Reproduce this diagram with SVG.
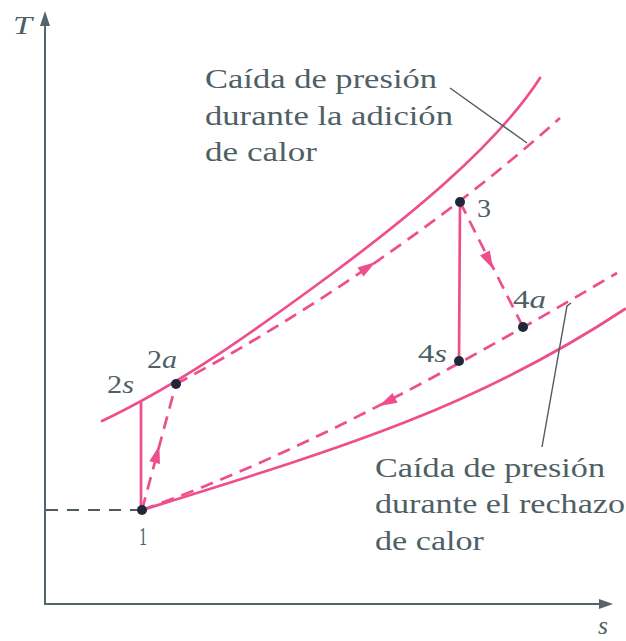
<svg xmlns="http://www.w3.org/2000/svg" width="626" height="641" viewBox="0 0 626 641">
<style>
.ax{stroke:#56646c;stroke-width:2;fill:none}
.axh{fill:#56646c}
.pk{stroke:#ee4f8c;stroke-width:2.7;fill:none;stroke-linejoin:round;stroke-linecap:round}
.pd{stroke:#ee4f8c;stroke-width:2.7;fill:none;stroke-dasharray:13 8;stroke-linejoin:round}
.gd{stroke:#4e5a63;stroke-width:2;fill:none;stroke-dasharray:12 9}
.ld{stroke:#4e5a63;stroke-width:1.4;fill:none}
.ah{fill:#ee4f8c}
.dot{fill:#1e2838}
.t{font-family:"Liberation Serif","Times New Roman",serif;font-size:27px;fill:#4f5f66}
.lb{font-family:"Liberation Serif","Times New Roman",serif;font-size:26px;fill:#4f5f66}
.it{font-style:italic}
</style>
<defs>
<path id="arr" d="M9,0 L-9,-5.5 L-9,5.5 Z"/>
</defs>

<g id="axes">
<line class="ax" x1="45" y1="605" x2="45" y2="22"/>
<path class="axh" d="M45,11 L40,26 L50,26 Z"/>
<line class="ax" x1="44" y1="604" x2="602" y2="604"/>
<path class="axh" d="M613,604 L599,599 L599,609 Z"/>
<text class="lb it" x="13" y="34" textLength="19" lengthAdjust="spacingAndGlyphs">T</text>
<text class="lb it" x="598" y="634" textLength="10" lengthAdjust="spacingAndGlyphs">s</text>
</g>

<g id="connectors">
<!-- high pressure line (solid) -->
<path class="pk" d="M102,421 C182,383 253,332 333,273 C403,221 495,148 540,78"/>
<!-- heat addition with pressure drop (dashed) -->
<path class="pd" d="M176,384 C306,315 450,217 560,118"/>
<!-- low pressure line (solid) -->
<path class="pk" d="M142,510 C342,448 475,408 625,309"/>
<!-- heat rejection with pressure drop (dashed) -->
<path class="pd" d="M142,510 C302,453 457,367 617,273"/>
<!-- isentropic compression 1-2s -->
<line class="pk" x1="141" y1="510" x2="141" y2="403"/>
<!-- actual compression 1-2a -->
<line class="pd" x1="142" y1="510" x2="176" y2="384"/>
<!-- isentropic expansion 3-4s -->
<line class="pk" x1="460" y1="202" x2="459" y2="361"/>
<!-- actual expansion 3-4a -->
<line class="pd" x1="460" y1="202" x2="523" y2="327"/>
<!-- state 1 reference line -->
<line class="gd" x1="46" y1="510" x2="140" y2="510"/>
<!-- arrowheads -->
<use href="#arr" class="ah" transform="translate(368,267) rotate(-34)"/>
<use href="#arr" class="ah" transform="translate(387,402) rotate(153)"/>
<use href="#arr" class="ah" transform="translate(157,454) rotate(-74.9)"/>
<use href="#arr" class="ah" transform="translate(489,261) rotate(63.3)"/>
<!-- leader lines -->
<path class="ld" d="M450,88 L527,143"/>
<path class="ld" d="M571,303 L567,306 L542,447"/>
</g>

<g id="node-1">
<circle class="dot" cx="142" cy="510" r="5"/>
<text class="lb" x="139" y="545" textLength="8" lengthAdjust="spacingAndGlyphs">1</text>
</g>
<g id="node-2s">
<text class="lb" x="107" y="393" textLength="27" lengthAdjust="spacingAndGlyphs">2<tspan class="it">s</tspan></text>
</g>
<g id="node-2a">
<circle class="dot" cx="176" cy="384" r="5"/>
<text class="lb" x="147" y="368" textLength="30" lengthAdjust="spacingAndGlyphs">2<tspan class="it">a</tspan></text>
</g>
<g id="node-3">
<circle class="dot" cx="460" cy="202" r="5"/>
<text class="lb" x="477" y="217" textLength="14" lengthAdjust="spacingAndGlyphs">3</text>
</g>
<g id="node-4s">
<circle class="dot" cx="459" cy="361" r="5"/>
<text class="lb" x="418" y="362" textLength="29" lengthAdjust="spacingAndGlyphs">4<tspan class="it">s</tspan></text>
</g>
<g id="node-4a">
<circle class="dot" cx="523" cy="327" r="5"/>
<text class="lb" x="513" y="308" textLength="33" lengthAdjust="spacingAndGlyphs">4<tspan class="it">a</tspan></text>
</g>

<g id="note-addition">
<text class="t" x="205" y="88" textLength="232" lengthAdjust="spacingAndGlyphs">Caída de presión</text>
<text class="t" x="205" y="125" textLength="248" lengthAdjust="spacingAndGlyphs">durante la adición</text>
<text class="t" x="205" y="161" textLength="112" lengthAdjust="spacingAndGlyphs">de calor</text>
</g>
<g id="note-rejection">
<text class="t" x="375" y="477" textLength="230" lengthAdjust="spacingAndGlyphs">Caída de presión</text>
<text class="t" x="375" y="513" textLength="250" lengthAdjust="spacingAndGlyphs">durante el rechazo</text>
<text class="t" x="375" y="550" textLength="109" lengthAdjust="spacingAndGlyphs">de calor</text>
</g>
</svg>
